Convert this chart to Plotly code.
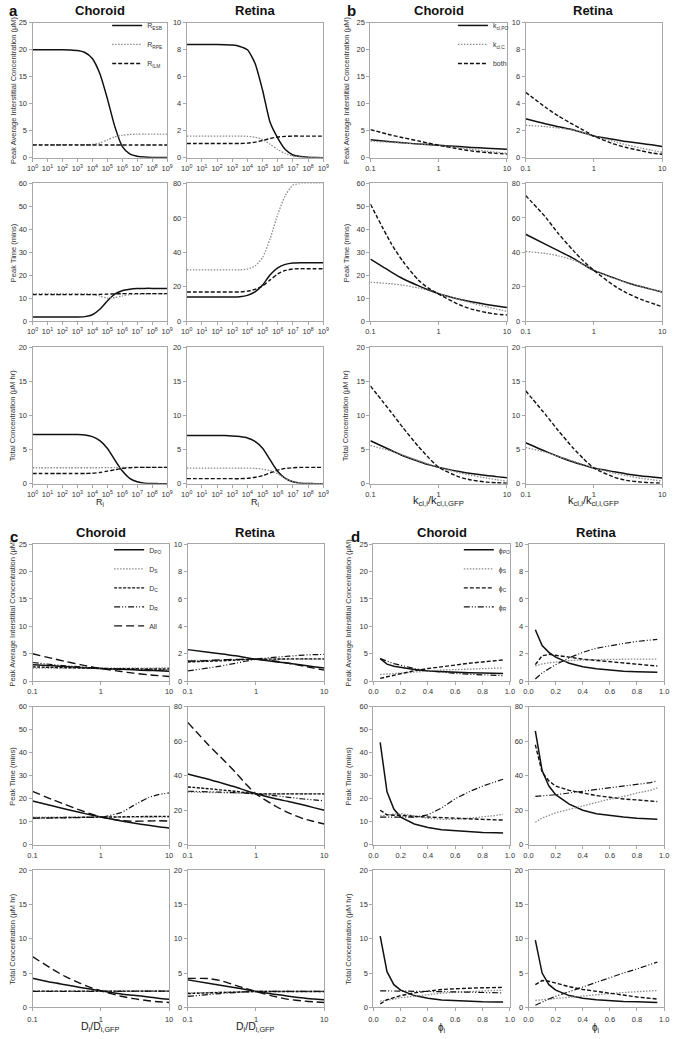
import plotly.graph_objects as go

# ---------------- Panel a : x = R_i ----------------
a_x = [1e0, 3.16e0, 1e1, 3.16e1, 1e2, 3.16e2, 1e3, 3.16e3, 1e4, 3.16e4,
       1e5, 3.16e5, 1e6, 3.16e6, 1e7, 3.16e7, 1e8, 3.16e8, 1e9]
a_names = ["R<sub>ESB</sub>", "R<sub>RPE</sub>", "R<sub>ILM</sub>"]
# Choroid
a_ch_peak_ESB = [20.0, 20.0, 20.0, 20.0, 20.0, 19.95, 19.85, 19.5, 18.4, 15.6, 11.0, 5.8, 2.1, 0.7, 0.25, 0.1, 0.04, 0.02, 0.01]
a_ch_peak_RPE = [2.4, 2.4, 2.4, 2.4, 2.4, 2.4, 2.4, 2.4, 2.45, 2.7, 3.3, 3.85, 4.15, 4.3, 4.35, 4.35, 4.35, 4.35, 4.35]
a_ch_peak_ILM = [2.35] * 19
a_ch_time_ESB = [1.8, 1.8, 1.8, 1.8, 1.8, 1.8, 1.8, 2.0, 2.8, 5.2, 8.8, 11.8, 13.3, 13.9, 14.2, 14.3, 14.3, 14.3, 14.3]
a_ch_time_RPE = [12.0, 12.0, 12.0, 12.0, 12.0, 12.0, 12.0, 12.0, 11.8, 11.0, 10.1, 10.3, 11.0, 11.6, 11.8, 11.9, 11.9, 11.9, 11.9]
a_ch_time_ILM = [11.6, 11.6, 11.6, 11.6, 11.6, 11.6, 11.6, 11.6, 11.6, 11.7, 11.8, 11.9, 12.0, 12.0, 12.0, 12.0, 12.0, 12.0, 12.0]
a_ch_tot_ESB = [7.2, 7.2, 7.2, 7.2, 7.2, 7.2, 7.2, 7.15, 6.9, 6.3, 5.2, 3.5, 1.9, 0.8, 0.3, 0.1, 0.04, 0.02, 0.01]
a_ch_tot_RPE = [2.35, 2.35, 2.35, 2.35, 2.35, 2.35, 2.35, 2.35, 2.35, 2.35, 2.36, 2.37, 2.38, 2.4, 2.4, 2.4, 2.4, 2.4, 2.4]
a_ch_tot_ILM = [1.5, 1.5, 1.5, 1.5, 1.5, 1.5, 1.5, 1.5, 1.55, 1.65, 1.85, 2.05, 2.25, 2.35, 2.4, 2.4, 2.4, 2.4, 2.4]
# Retina
a_re_peak_ESB = [8.4, 8.4, 8.4, 8.4, 8.4, 8.38, 8.35, 8.25, 8.0, 7.0, 5.0, 2.6, 1.45, 0.6, 0.2, 0.08, 0.03, 0.01, 0.0]
a_re_peak_RPE = [1.6, 1.6, 1.6, 1.6, 1.6, 1.6, 1.6, 1.6, 1.58, 1.52, 1.35, 1.0, 0.6, 0.3, 0.12, 0.05, 0.02, 0.01, 0.0]
a_re_peak_ILM = [1.05, 1.05, 1.05, 1.05, 1.05, 1.05, 1.05, 1.05, 1.08, 1.15, 1.27, 1.42, 1.53, 1.58, 1.6, 1.6, 1.6, 1.6, 1.6]
a_re_time_ESB = [14.0, 14.0, 14.0, 14.0, 14.0, 14.0, 14.0, 14.2, 15.0, 17.0, 21.0, 27.0, 31.0, 33.0, 33.8, 34.0, 34.0, 34.0, 34.0]
a_re_time_RPE = [29.8, 29.8, 29.8, 29.8, 29.8, 29.8, 29.8, 29.8, 30.3, 32.0, 37.0, 48.0, 62.0, 73.0, 79.0, 80.0, 80.0, 80.0, 80.0]
a_re_time_ILM = [17.0, 17.0, 17.0, 17.0, 17.0, 17.0, 17.0, 17.0, 17.5, 18.5, 20.5, 24.0, 27.5, 29.5, 30.3, 30.5, 30.5, 30.5, 30.5]
a_re_tot_ESB = [7.05, 7.05, 7.05, 7.05, 7.05, 7.05, 7.0, 6.9, 6.7, 6.2, 5.2, 3.5, 1.8, 0.8, 0.3, 0.1, 0.04, 0.02, 0.01]
a_re_tot_RPE = [2.3, 2.3, 2.3, 2.3, 2.3, 2.3, 2.3, 2.3, 2.3, 2.25, 2.15, 1.9, 1.45, 0.75, 0.3, 0.1, 0.04, 0.02, 0.01]
a_re_tot_ILM = [0.75, 0.75, 0.75, 0.75, 0.75, 0.75, 0.75, 0.75, 0.8, 0.95, 1.2, 1.6, 2.0, 2.25, 2.35, 2.4, 2.4, 2.4, 2.4]

# ---------------- Panel b : x = k_cl,i / k_cl,i,GFP ----------------
b_x = [0.1, 0.2, 0.3, 0.5, 0.7, 1, 2, 3, 5, 7, 10]
b_names = ["k<sub>cl,PO</sub>", "k<sub>cl,C</sub>", "both"]
b_ch_peak_PO = [3.3, 2.95, 2.75, 2.55, 2.42, 2.3, 2.05, 1.9, 1.75, 1.65, 1.55]
b_ch_peak_C = [3.05, 2.85, 2.7, 2.5, 2.4, 2.3, 1.85, 1.55, 1.2, 1.0, 0.8]
b_ch_peak_both = [5.2, 4.2, 3.7, 3.1, 2.7, 2.3, 1.6, 1.25, 0.95, 0.8, 0.65]
b_ch_time_PO = [27.0, 21.5, 18.5, 15.5, 13.7, 12.0, 9.6, 8.5, 7.3, 6.6, 6.0]
b_ch_time_C = [17.0, 16.3, 15.7, 14.5, 13.4, 12.0, 9.5, 8.0, 6.3, 5.3, 4.3]
b_ch_time_both = [51.0, 34.0, 26.0, 18.0, 14.5, 11.8, 7.2, 5.3, 3.8, 3.1, 2.7]
b_ch_tot_PO = [6.3, 4.9, 4.1, 3.3, 2.8, 2.4, 1.8, 1.5, 1.2, 1.05, 0.9]
b_ch_tot_C = [5.6, 4.8, 4.2, 3.4, 2.9, 2.4, 1.6, 1.25, 0.85, 0.6, 0.4]
b_ch_tot_both = [14.3, 10.5, 8.2, 5.5, 3.9, 2.4, 1.0, 0.55, 0.25, 0.15, 0.1]
b_re_peak_PO = [2.88, 2.5, 2.3, 2.05, 1.85, 1.6, 1.35, 1.2, 1.05, 0.95, 0.83]
b_re_peak_C = [2.4, 2.3, 2.2, 2.05, 1.85, 1.6, 1.2, 0.95, 0.7, 0.55, 0.4]
b_re_peak_both = [4.85, 3.7, 3.1, 2.45, 2.05, 1.6, 1.0, 0.75, 0.5, 0.35, 0.25]
b_re_time_PO = [50.5, 44.5, 41.0, 36.5, 33.0, 29.5, 25.0, 22.5, 20.0, 18.5, 17.0]
b_re_time_C = [40.5, 39.3, 38.0, 35.5, 33.0, 29.5, 25.0, 22.5, 20.0, 18.5, 17.0]
b_re_time_both = [73.0, 60.0, 51.0, 41.0, 35.0, 29.5, 20.5, 16.5, 12.5, 10.5, 8.5]
b_re_tot_PO = [6.0, 4.7, 4.0, 3.2, 2.75, 2.3, 1.75, 1.45, 1.15, 1.0, 0.85]
b_re_tot_C = [5.3, 4.6, 4.0, 3.3, 2.8, 2.3, 1.55, 1.2, 0.8, 0.6, 0.4]
b_re_tot_both = [13.6, 10.0, 7.8, 5.2, 3.7, 2.3, 0.95, 0.5, 0.25, 0.15, 0.1]

# ---------------- Panel c : x = D_i / D_i,GFP ----------------
c_x = [0.1, 0.2, 0.3, 0.5, 0.7, 1, 2, 3, 5, 7, 10]
c_names = ["D<sub>PO</sub>", "D<sub>S</sub>", "D<sub>C</sub>", "D<sub>R</sub>", "All"]
c_ch_peak_PO = [3.0, 2.8, 2.65, 2.5, 2.4, 2.3, 2.15, 2.05, 1.95, 1.88, 1.8]
c_ch_peak_S = [2.35, 2.35, 2.35, 2.35, 2.35, 2.35, 2.36, 2.37, 2.38, 2.39, 2.4]
c_ch_peak_C = [2.6, 2.5, 2.45, 2.4, 2.35, 2.3, 2.27, 2.25, 2.22, 2.21, 2.2]
c_ch_peak_R = [3.4, 3.0, 2.8, 2.6, 2.45, 2.3, 2.2, 2.15, 2.08, 2.03, 2.0]
c_ch_peak_All = [5.0, 4.1, 3.6, 3.0, 2.65, 2.3, 1.75, 1.45, 1.15, 1.0, 0.85]
c_ch_time_PO = [19.0, 16.8, 15.5, 14.0, 13.0, 12.0, 10.3, 9.4, 8.4, 7.8, 7.3]
c_ch_time_S = [12.0, 12.0, 12.0, 12.0, 12.0, 12.0, 12.0, 12.0, 12.0, 12.0, 12.0]
c_ch_time_C = [11.6, 11.7, 11.8, 11.9, 11.95, 12.0, 12.1, 12.2, 12.25, 12.3, 12.3]
c_ch_time_R = [11.5, 11.6, 11.7, 11.8, 11.9, 12.0, 14.0, 17.0, 20.5, 21.8, 22.5]
c_ch_time_All = [23.2, 19.5, 17.5, 15.0, 13.5, 12.0, 10.5, 10.2, 10.3, 10.4, 10.3]
c_ch_tot_PO = [4.25, 3.6, 3.3, 2.9, 2.65, 2.4, 1.95, 1.75, 1.5, 1.3, 1.15]
c_ch_tot_S = [2.35, 2.35, 2.35, 2.35, 2.35, 2.35, 2.35, 2.35, 2.35, 2.35, 2.35]
c_ch_tot_C = [2.36, 2.36, 2.36, 2.36, 2.36, 2.36, 2.36, 2.36, 2.36, 2.36, 2.36]
c_ch_tot_R = [2.3, 2.3, 2.3, 2.3, 2.3, 2.32, 2.33, 2.34, 2.35, 2.35, 2.35]
c_ch_tot_All = [7.4, 5.5, 4.5, 3.5, 2.9, 2.4, 1.6, 1.25, 0.95, 0.8, 0.7]
c_re_peak_PO = [2.3, 2.1, 2.0, 1.85, 1.72, 1.6, 1.4, 1.3, 1.15, 1.05, 0.95]
c_re_peak_S = [1.5, 1.52, 1.54, 1.57, 1.58, 1.6, 1.6, 1.6, 1.6, 1.6, 1.6]
c_re_peak_C = [1.4, 1.45, 1.48, 1.53, 1.57, 1.6, 1.61, 1.62, 1.62, 1.62, 1.62]
c_re_peak_R = [0.75, 0.95, 1.1, 1.3, 1.45, 1.6, 1.75, 1.82, 1.9, 1.93, 1.95]
c_re_peak_All = [1.45, 1.5, 1.55, 1.58, 1.6, 1.6, 1.45, 1.3, 1.1, 0.95, 0.8]
c_re_time_PO = [41.0, 38.0, 36.0, 33.5, 31.5, 29.5, 26.5, 25.0, 23.0, 21.5, 20.0]
c_re_time_S = [30.5, 30.3, 30.2, 30.0, 29.8, 29.5, 29.5, 29.5, 29.5, 29.5, 29.5]
c_re_time_C = [33.5, 32.5, 31.8, 31.0, 30.2, 29.5, 29.5, 29.5, 29.5, 29.5, 29.5]
c_re_time_R = [31.0, 30.7, 30.5, 30.2, 29.9, 29.5, 28.3, 27.5, 26.5, 26.0, 25.5]
c_re_time_All = [71.0, 58.0, 51.0, 42.0, 35.5, 29.5, 22.0, 18.5, 15.0, 13.5, 12.0]
c_re_tot_PO = [4.0, 3.5, 3.2, 2.85, 2.6, 2.3, 1.85, 1.6, 1.35, 1.2, 1.1]
c_re_tot_S = [2.1, 2.15, 2.2, 2.25, 2.28, 2.3, 2.3, 2.3, 2.3, 2.3, 2.3]
c_re_tot_C = [2.0, 2.1, 2.15, 2.2, 2.25, 2.3, 2.3, 2.3, 2.3, 2.3, 2.3]
c_re_tot_R = [1.6, 1.85, 2.0, 2.15, 2.25, 2.3, 2.33, 2.33, 2.33, 2.33, 2.33]
c_re_tot_All = [4.2, 4.2, 3.9, 3.2, 2.75, 2.3, 1.5, 1.15, 0.9, 0.8, 0.7]

# ---------------- Panel d : x = phi_i ----------------
d_x = [0.05, 0.1, 0.15, 0.2, 0.3, 0.4, 0.5, 0.6, 0.7, 0.8, 0.9, 0.95]
d_names = ["ϕ<sub>PO</sub>", "ϕ<sub>S</sub>", "ϕ<sub>C</sub>", "ϕ<sub>R</sub>"]
d_ch_peak_PO = [4.1, 3.1, 2.7, 2.5, 2.1, 1.85, 1.7, 1.6, 1.52, 1.46, 1.42, 1.4]
d_ch_peak_S = [1.2, 1.3, 1.4, 1.5, 1.7, 1.85, 2.0, 2.1, 2.2, 2.3, 2.35, 2.4]
d_ch_peak_C = [0.5, 0.8, 1.1, 1.4, 1.9, 2.3, 2.65, 3.0, 3.25, 3.5, 3.7, 3.85]
d_ch_peak_R = [4.1, 3.6, 3.2, 2.9, 2.3, 1.9, 1.6, 1.4, 1.25, 1.12, 1.05, 1.0]
d_ch_time_PO = [44.5, 23.0, 15.5, 12.0, 9.0, 7.5, 6.5, 6.0, 5.6, 5.3, 5.2, 5.1]
d_ch_time_S = [12.5, 13.0, 13.3, 13.5, 12.5, 11.5, 11.0, 11.0, 11.5, 12.0, 12.7, 13.2]
d_ch_time_C = [15.0, 13.0, 12.8, 12.8, 12.3, 12.0, 11.6, 11.3, 11.2, 11.0, 10.8, 10.7]
d_ch_time_R = [12.0, 12.0, 12.0, 12.0, 12.0, 13.0, 16.0, 20.0, 23.0, 25.5, 27.3, 28.5]
d_ch_tot_PO = [10.4, 5.2, 3.3, 2.5, 1.7, 1.3, 1.05, 0.95, 0.85, 0.8, 0.77, 0.75]
d_ch_tot_S = [0.9, 1.0, 1.2, 1.4, 1.65, 1.9, 2.05, 2.2, 2.3, 2.4, 2.45, 2.5]
d_ch_tot_C = [0.5, 1.1, 1.4, 1.7, 2.1, 2.4, 2.6, 2.7, 2.8, 2.85, 2.88, 2.9]
d_ch_tot_R = [2.4, 2.4, 2.38, 2.35, 2.33, 2.3, 2.28, 2.25, 2.22, 2.2, 2.15, 2.1]
d_re_peak_PO = [3.75, 2.6, 2.1, 1.75, 1.3, 1.05, 0.9, 0.8, 0.72, 0.68, 0.66, 0.65]
d_re_peak_S = [1.1, 1.25, 1.33, 1.4, 1.5, 1.55, 1.58, 1.6, 1.6, 1.6, 1.6, 1.6]
d_re_peak_C = [1.2, 1.85, 1.95, 1.9, 1.75, 1.6, 1.5, 1.4, 1.3, 1.2, 1.13, 1.1]
d_re_peak_R = [0.15, 0.6, 0.9, 1.2, 1.7, 2.1, 2.4, 2.6, 2.75, 2.9, 3.0, 3.05]
d_re_time_PO = [66.0, 43.0, 34.0, 29.0, 23.5, 20.0, 18.0, 16.8, 16.0, 15.3, 15.0, 14.7]
d_re_time_S = [13.0, 15.5, 17.0, 18.5, 20.5, 22.5, 24.5, 26.5, 28.0, 30.0, 31.5, 33.0]
d_re_time_C = [58.0, 42.0, 37.0, 34.0, 31.5, 30.0, 28.5, 27.5, 26.5, 26.0, 25.5, 25.0]
d_re_time_R = [28.0, 28.3, 28.7, 29.0, 30.0, 31.0, 32.0, 33.0, 34.0, 35.0, 36.0, 37.0]
d_re_tot_PO = [9.8, 5.0, 3.3, 2.5, 1.7, 1.3, 1.1, 0.95, 0.85, 0.8, 0.75, 0.7]
d_re_tot_S = [1.0, 1.1, 1.2, 1.3, 1.5, 1.7, 1.85, 2.0, 2.15, 2.25, 2.35, 2.45]
d_re_tot_C = [3.3, 3.9, 3.8, 3.5, 3.0, 2.6, 2.3, 2.0, 1.75, 1.5, 1.3, 1.2]
d_re_tot_R = [0.3, 0.8, 1.2, 1.6, 2.3, 2.9, 3.6, 4.3, 5.0, 5.6, 6.2, 6.6]

# axis tick labels
a_tickvals = [1e0, 1e1, 1e2, 1e3, 1e4, 1e5, 1e6, 1e7, 1e8, 1e9]
a_ticktext = ["10<sup>%d</sup>" % k for k in range(10)]
bc_tickvals = [0.1, 1, 10]
bc_ticktext = ["0.1", "1", "10"]
y_titles = ["Peak Average Interstitial Concentration (μM)", "Peak Time (mins)", "Total Concentration (μM hr)"]

# ---------------- styling ----------------
FONT = "Arial, 'Liberation Sans', Helvetica, sans-serif"
W, H = 676, 1039
BLACK = "#111111"
GRAY = "#8a8a8a"
AX = "#a8a8a8"
TXT = "#333333"

S_SOLID = dict(color=BLACK, width=1.5, dash="solid")
S_DOT = dict(color=GRAY, width=1.3, dash="1.5px,1.5px")
S_DASH = dict(color=BLACK, width=1.4, dash="4px,2px")
S_DDASH = dict(color=BLACK, width=1.4, dash="3px,1.5px")
S_DDOT = dict(color=BLACK, width=1.2, dash="6px,2px,1px,2px,1px,2px")
S_LONG = dict(color=BLACK, width=1.4, dash="8px,4px")


def px(x):
    return x / W


def py(y):
    return 1 - y / H


groups = [
    dict(letter="a", x=a_x, xkind="a", names=a_names, styles=[S_SOLID, S_DOT, S_DASH],
         cols=[(27, 164), (184, 323)], rows=[(19, 155), (181, 320), (346, 484)],
         legend="legend", leg=(103, 7), xtitle="R<sub>i</sub>", xtsize=9, xty=503,
         title_y=7, letter_xy=(1, 7), ytx=7, lastpad=0,
         data={(0, 0): [a_ch_peak_ESB, a_ch_peak_RPE, a_ch_peak_ILM],
               (0, 1): [a_ch_time_ESB, a_ch_time_RPE, a_ch_time_ILM],
               (0, 2): [a_ch_tot_ESB, a_ch_tot_RPE, a_ch_tot_ILM],
               (1, 0): [a_re_peak_ESB, a_re_peak_RPE, a_re_peak_ILM],
               (1, 1): [a_re_time_ESB, a_re_time_RPE, a_re_time_ILM],
               (1, 2): [a_re_tot_ESB, a_re_tot_RPE, a_re_tot_ILM]},
         spline=True),
    dict(letter="b", x=b_x, xkind="bc", names=b_names, styles=[S_SOLID, S_DOT, S_DASH],
         cols=[(371, 510), (529, 668)], rows=[(19, 155), (181, 320), (346, 484)],
         legend="legend2", leg=(455, 7), xtitle="k<sub>cl,i</sub>/k<sub>cl,i,GFP</sub>", xtsize=11, xty=501,
         title_y=7, letter_xy=(345, 7), ytx=346, lastpad=0,
         data={(0, 0): [b_ch_peak_PO, b_ch_peak_C, b_ch_peak_both],
               (0, 1): [b_ch_time_PO, b_ch_time_C, b_ch_time_both],
               (0, 2): [b_ch_tot_PO, b_ch_tot_C, b_ch_tot_both],
               (1, 0): [b_re_peak_PO, b_re_peak_C, b_re_peak_both],
               (1, 1): [b_re_time_PO, b_re_time_C, b_re_time_both],
               (1, 2): [b_re_tot_PO, b_re_tot_C, b_re_tot_both]},
         spline=True),
    dict(letter="c", x=c_x, xkind="bc", names=c_names, styles=[S_SOLID, S_DOT, S_DDASH, S_DDOT, S_LONG],
         cols=[(27, 166), (185, 324)], rows=[(545, 683), (709, 848), (874, 1012)],
         legend="legend3", leg=(105, 536), xtitle="D<sub>i</sub>/D<sub>i,GFP</sub>", xtsize=10.5, xty=1032,
         title_y=533, letter_xy=(2, 537), ytx=7, lastpad=2,
         data={(0, 0): [c_ch_peak_PO, c_ch_peak_S, c_ch_peak_C, c_ch_peak_R, c_ch_peak_All],
               (0, 1): [c_ch_time_PO, c_ch_time_S, c_ch_time_C, c_ch_time_R, c_ch_time_All],
               (0, 2): [c_ch_tot_PO, c_ch_tot_S, c_ch_tot_C, c_ch_tot_R, c_ch_tot_All],
               (1, 0): [c_re_peak_PO, c_re_peak_S, c_re_peak_C, c_re_peak_R, c_re_peak_All],
               (1, 1): [c_re_time_PO, c_re_time_S, c_re_time_C, c_re_time_R, c_re_time_All],
               (1, 2): [c_re_tot_PO, c_re_tot_S, c_re_tot_C, c_re_tot_R, c_re_tot_All]},
         spline=True),
    dict(letter="d", x=d_x, xkind="d", names=d_names, styles=[S_SOLID, S_DOT, S_DASH, S_DDOT],
         cols=[(374, 513), (532, 670)], rows=[(545, 683), (709, 848), (874, 1012)],
         legend="legend4", leg=(461, 536), xtitle="ϕ<sub>i</sub>", xtsize=10, xty=1033,
         title_y=533, letter_xy=(349, 537), ytx=349, lastpad=2,
         data={(0, 0): [d_ch_peak_PO, d_ch_peak_S, d_ch_peak_C, d_ch_peak_R],
               (0, 1): [d_ch_time_PO, d_ch_time_S, d_ch_time_C, d_ch_time_R],
               (0, 2): [d_ch_tot_PO, d_ch_tot_S, d_ch_tot_C, d_ch_tot_R],
               (1, 0): [d_re_peak_PO, d_re_peak_S, d_re_peak_C, d_re_peak_R],
               (1, 1): [d_re_time_PO, d_re_time_S, d_re_time_C, d_re_time_R],
               (1, 2): [d_re_tot_PO, d_re_tot_S, d_re_tot_C, d_re_tot_R]},
         spline=False),
]

y_ranges = {(0, 0): (25, 5), (1, 0): (10, 2), (0, 1): (60, 10), (1, 1): (80, 20), (0, 2): (20, 5), (1, 2): (20, 5)}

fig = go.Figure()
layout = {}
annotations = []
tickfont = dict(family=FONT, size=7.5, color=TXT)
idx = 0
for g in groups:
    for c in range(2):
        for r in range(3):
            idx += 1
            sfx = "" if idx == 1 else str(idx)
            xl, xr = g["cols"][c]
            yt, yb = g["rows"][r]
            ymax, dt = y_ranges[(c, r)]
            common = dict(showline=True, mirror=True, linecolor=AX, linewidth=1,
                          ticks="outside", ticklen=3, tickcolor=AX, tickwidth=1,
                          tickfont=tickfont, showgrid=False, zeroline=False)
            xa = dict(domain=[px(xl), px(xr)], anchor="y" + sfx, **common)
            if r == 2 and g["lastpad"]:
                xa["ticklabelstandoff"] = g["lastpad"]
            if g["xkind"] == "a":
                xa.update(type="log", range=[0, 9], tickmode="array", tickvals=a_tickvals, ticktext=a_ticktext)
            elif g["xkind"] == "bc":
                xa.update(type="log", range=[-1, 1], tickmode="array", tickvals=bc_tickvals, ticktext=bc_ticktext)
            else:
                xa.update(range=[0, 1], dtick=0.2, tickformat=".1f")
            ya = dict(domain=[py(yb), py(yt)], anchor="x" + sfx, range=[0, ymax], dtick=dt, **common)
            layout["xaxis" + sfx] = xa
            layout["yaxis" + sfx] = ya
            for k, (nm, st) in enumerate(zip(g["names"], g["styles"])):
                fig.add_trace(go.Scatter(
                    x=g["x"], y=g["data"][(c, r)][k], mode="lines", name=nm,
                    line=dict(st, shape="spline" if g["spline"] else "linear", smoothing=0.6),
                    xaxis="x" + sfx, yaxis="y" + sfx,
                    showlegend=(c == 0 and r == 0), legend=g["legend"]))
            if c == 0:
                annotations.append(dict(text=y_titles[r], textangle=-90, xref="paper", yref="paper",
                                        x=px(g["ytx"]), y=py((yt + yb) / 2), xanchor="center", yanchor="middle",
                                        showarrow=False, font=dict(family=FONT, size=7.5, color=TXT)))
            if r == 2:
                annotations.append(dict(text=g["xtitle"], xref="paper", yref="paper",
                                        x=px((xl + xr) / 2), y=py(g["xty"]), xanchor="center", yanchor="middle",
                                        showarrow=False, font=dict(family=FONT, size=g["xtsize"], color="#222222")))
        annotations.append(dict(text="<b>%s</b>" % ("Choroid" if c == 0 else "Retina"), xref="paper", yref="paper",
                                x=px((g["cols"][c][0] + g["cols"][c][1]) / 2), y=py(g["title_y"]),
                                xanchor="center", yanchor="middle",
                                showarrow=False, font=dict(family=FONT, size=13, color="#111111")))
    lx, ly = g["letter_xy"]
    annotations.append(dict(text="<b>%s</b>" % g["letter"], xref="paper", yref="paper",
                            x=px(lx), y=py(ly), xanchor="left", yanchor="middle",
                            showarrow=False, font=dict(family=FONT, size=15, color="#111111")))
    gx, gy = g["leg"]
    layout[g["legend"]] = dict(x=px(gx), y=py(gy), xanchor="left", yanchor="top",
                               bgcolor="rgba(0,0,0,0)", font=dict(family=FONT, size=7, color=TXT),
                               tracegroupgap=0, itemwidth=30)

fig.update_layout(**layout)
fig.update_layout(width=W, height=H, margin=dict(l=0, r=0, t=0, b=0),
                  paper_bgcolor="white", plot_bgcolor="white", annotations=annotations,
                  font=dict(family=FONT))
fig.write_html("out.html", config={"displayModeBar": False},
               post_script="document.body.style.margin='0';")
